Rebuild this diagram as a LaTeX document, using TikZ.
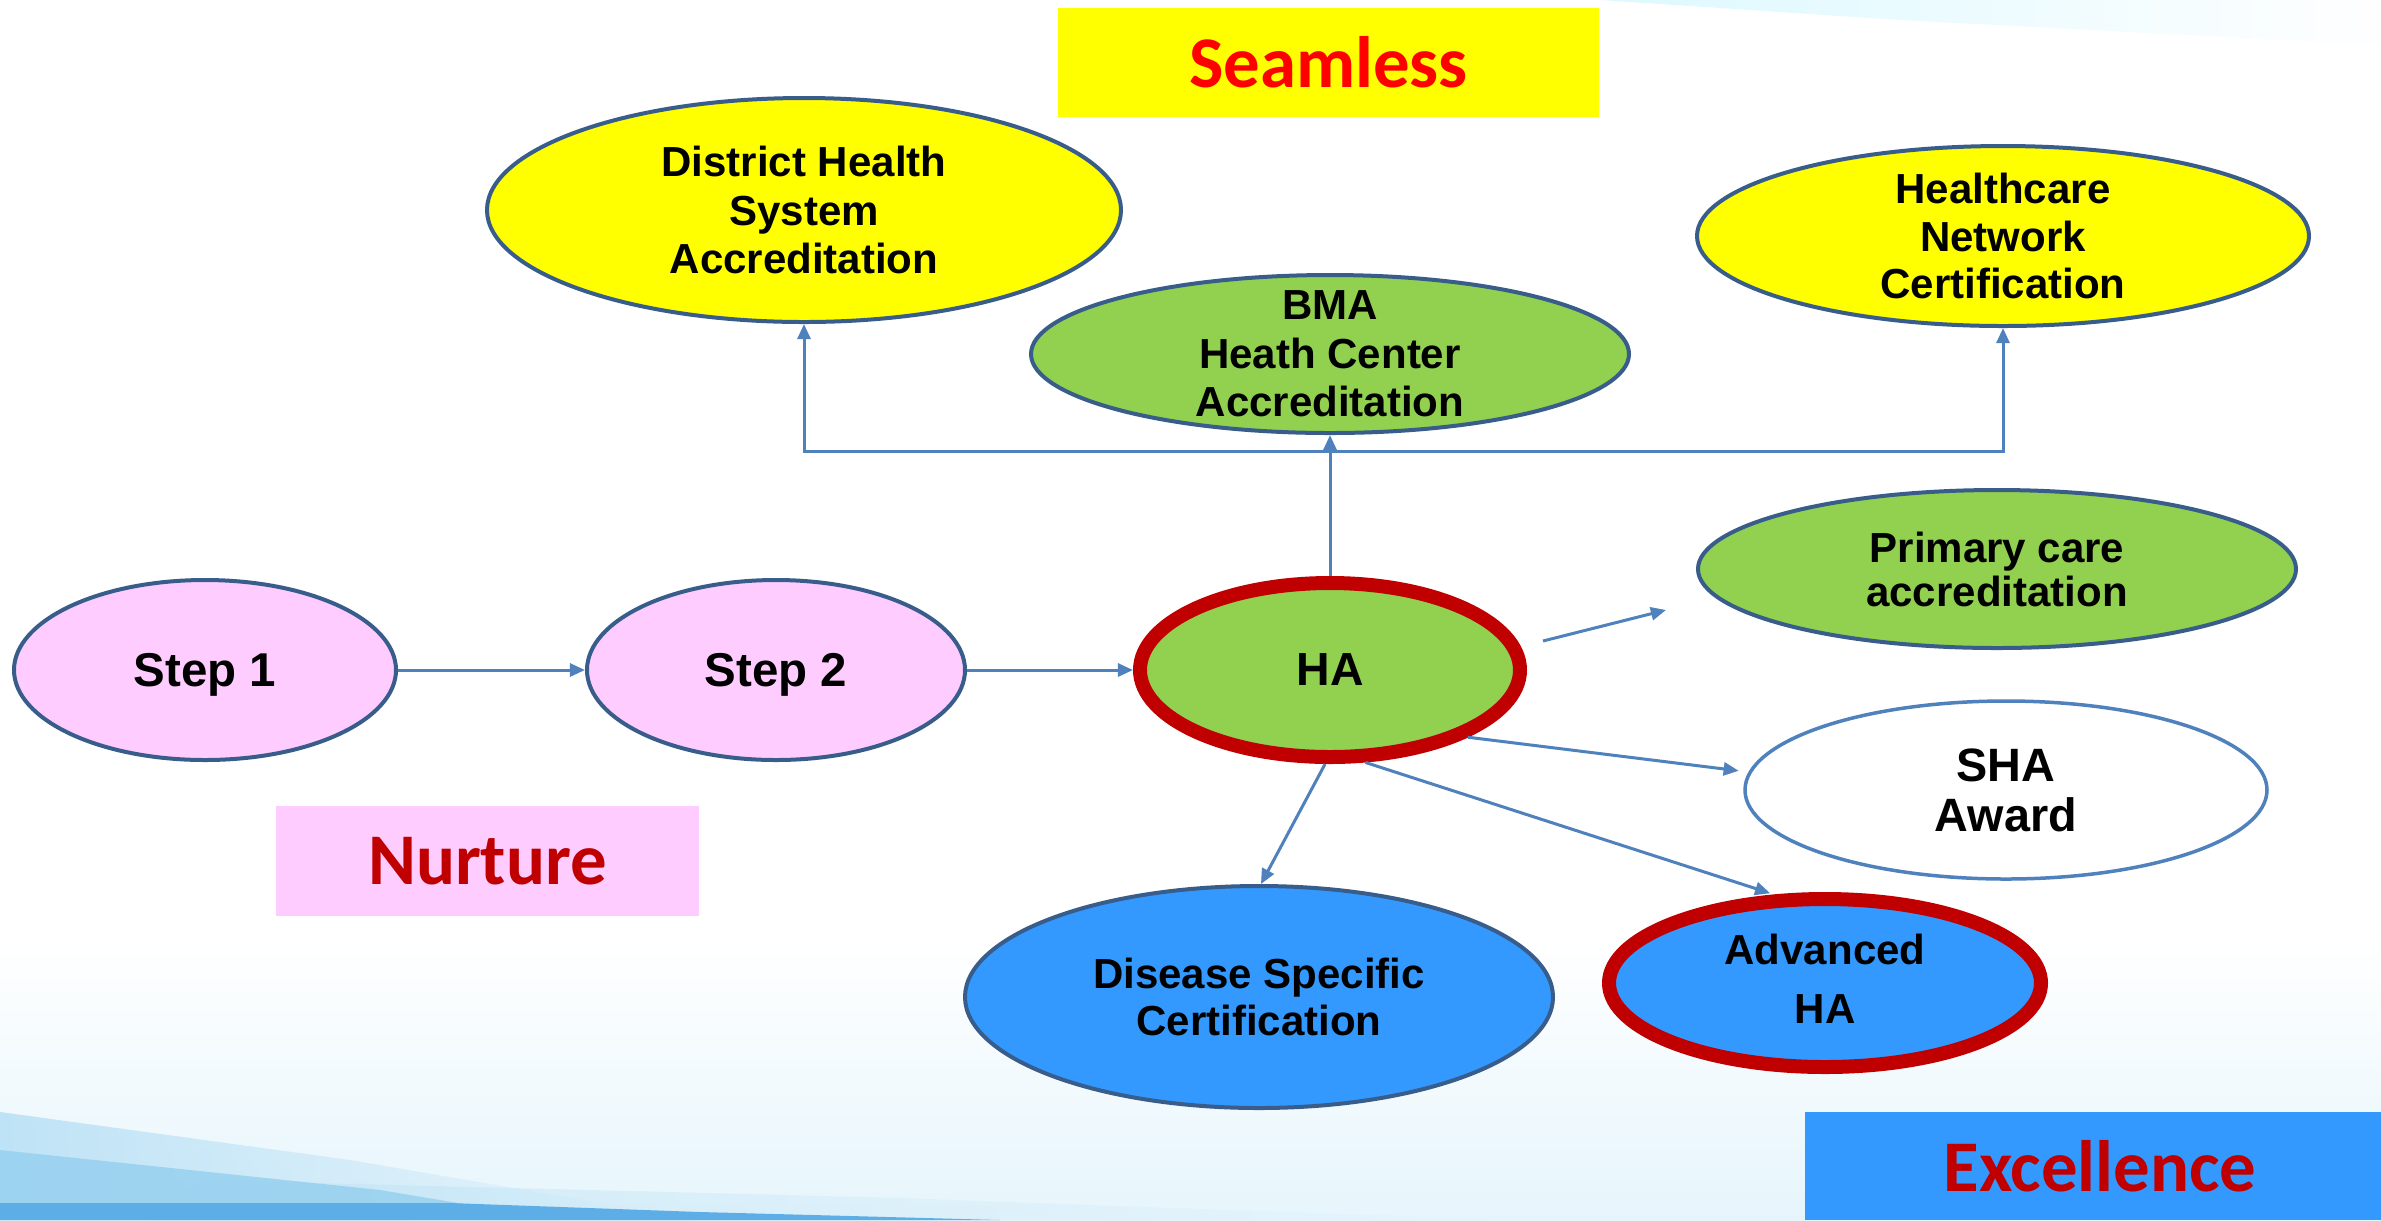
\documentclass[tikz,border=0pt]{standalone}
\usepackage{fontspec}
\setmainfont{Liberation Sans}
\newfontfamily\calfont{Carlito}
\usetikzlibrary{shapes.geometric,arrows.meta,fadings}
\definecolor{bord}{HTML}{385D8A}
\definecolor{shabord}{HTML}{4F81BD}
\definecolor{conn}{HTML}{4F81BD}
\definecolor{yel}{HTML}{FFFF00}
\definecolor{grn}{HTML}{92D050}
\definecolor{pnk}{HTML}{FFCCFF}
\definecolor{blu}{HTML}{3399FF}
\definecolor{dred}{HTML}{C00000}
\definecolor{bgA}{HTML}{E6F5FC}
\definecolor{bgB}{HTML}{BFE3F6}
\definecolor{bgC}{HTML}{94CFEF}
\definecolor{bgD}{HTML}{5DAEE6}
\definecolor{bgT}{HTML}{DDF9FF}
\newdimen\pxu \pxu=0.01cm
\begin{document}
\begin{tikzpicture}[x=0.01cm,y=-0.01cm,
  oval/.style={ellipse, draw=bord, line width=4\pxu, inner sep=0pt},
  redoval/.style={ellipse, draw=dred, line width=14\pxu, inner sep=0pt},
  txt/.style={align=center, inner sep=0pt, font=\bfseries\fontsize{11.95}{13.9}\selectfont},
  arr/.style={draw=conn, line width=3\pxu, -{Triangle[length=4.3pt,width=3.7pt]}},
  ln/.style={draw=conn, line width=3\pxu},
  banner/.style={inner sep=0pt, font=\calfont\bfseries\fontsize{20.7}{24}\selectfont}
]
\useasboundingbox (0,0) rectangle (2381,1220);
% background
\fill[white] (0,0) rectangle (2381,1220);
\shade[top color=white, bottom color=bgA] (0,940) rectangle (2381,1220);
\fill[bgT, path fading=east] (1600,0) -- (2381,0) -- (2381,45) -- (1900,20) -- cycle;
\fill[bgB, path fading=east] (0,1112) -- (350,1160) -- (700,1220) -- (0,1220) -- cycle;
\fill[bgB, opacity=0.6, path fading=east] (200,1180) -- (900,1198) -- (1500,1220) -- (150,1220) -- cycle;
\fill[bgC, opacity=0.8] (0,1150) -- (380,1190) -- (560,1220) -- (0,1220) -- cycle;
\fill[bgD] (0,1203) -- (450,1203) -- (700,1212) -- (1000,1220) -- (0,1220) -- cycle;

% banners
\node[banner, fill=yel, minimum width=541\pxu, minimum height=109\pxu, text=red] (seam) at (1328.5,62.5) {Seamless};
\node[banner, fill=pnk, minimum width=423\pxu, minimum height=110\pxu, text=dred] (nurt) at (487.5,861) {Nurture};
\node[banner, fill=blu, minimum width=576\pxu, minimum height=108\pxu, text=dred] (exc) at (2093,1166) {\hspace*{14\pxu}Excellence};

% ellipses
\node[oval, fill=yel, minimum width=634\pxu, minimum height=224\pxu] (dhs) at (804,210) {};
\node[oval, fill=grn, minimum width=598\pxu, minimum height=158\pxu] (bma) at (1330,354) {};
\node[oval, fill=yel, minimum width=612\pxu, minimum height=180\pxu] (hcn) at (2003,236) {};
\node[oval, fill=grn, minimum width=598\pxu, minimum height=158\pxu] (pc) at (1997,569) {};
\node[oval, fill=pnk, minimum width=382\pxu, minimum height=180\pxu] (s1) at (205,670) {};
\node[oval, fill=pnk, minimum width=378\pxu, minimum height=180\pxu] (s2) at (776,670) {};
\node[redoval, fill=grn, minimum width=380\pxu, minimum height=174\pxu] (ha) at (1330,670) {};
\node[ellipse, draw=shabord, line width=3.5\pxu, inner sep=0pt, fill=white, minimum width=522\pxu, minimum height=178\pxu] (sha) at (2006,790) {};
\node[oval, fill=blu, minimum width=588\pxu, minimum height=222\pxu] (dsc) at (1259,997) {};
\node[redoval, fill=blu, minimum width=432\pxu, minimum height=168\pxu] (adv) at (1825,983) {};

% texts
\node[txt] (dhst) at (dhs) {District Health\\System\\Accreditation};
\node[txt, font=\bfseries\fontsize{11.95}{13.8}\selectfont] (bmat) at (bma) {BMA\\Heath Center\\Accreditation};
\node[txt, font=\bfseries\fontsize{11.95}{13.4}\selectfont] (hcnt) at (hcn) {Healthcare\\Network\\Certification};
\node[txt, font=\bfseries\fontsize{11.95}{12.5}\selectfont] (pct) at (pc) {Primary care\\accreditation};
\node[txt, font=\bfseries\fontsize{13.5}{16}\selectfont] (s1t) at ([yshift=-5\pxu]s1.center) {Step 1};
\node[txt, font=\bfseries\fontsize{13.5}{16}\selectfont] (s2t) at ([yshift=-5\pxu]s2.center) {Step 2};
\node[txt, font=\bfseries\fontsize{13.2}{16}\selectfont] (hat) at (ha) {HA};
\node[txt, font=\bfseries\fontsize{13.3}{14.2}\selectfont] (shat) at (sha) {SHA\\Award};
\node[txt, font=\bfseries\fontsize{11.95}{13.4}\selectfont] (dsct) at (dsc) {Disease Specific\\Certification};
\node[txt, font=\bfseries\fontsize{11.95}{16.8}\selectfont] (advt) at ([yshift=4\pxu]adv.center) {Advanced\\HA};

% connectors
\coordinate (j) at (1330,451);
\draw[arr] (s1) -- (s2);
\draw[arr] (s2) -- (ha);
\draw[ln] (ha.north) -- (j);
\draw[arr] (j) -- (bma.south);
\draw[arr] (j) -| (dhs.south);
\draw[arr] (j) -| (hcn.south);
\coordinate (pa) at (1543,641);
\coordinate (pb) at (1666,610);
\draw[arr] (pa) -- (pb);
\draw[arr, shorten >=2.8pt] (ha.-26) -- (sha.176);
\draw[arr] (ha.-93) -- (dsc.89.5);
\draw[arr, shorten >=1.1pt] (ha.-69) -- (adv.120);
\end{tikzpicture}
\end{document}
